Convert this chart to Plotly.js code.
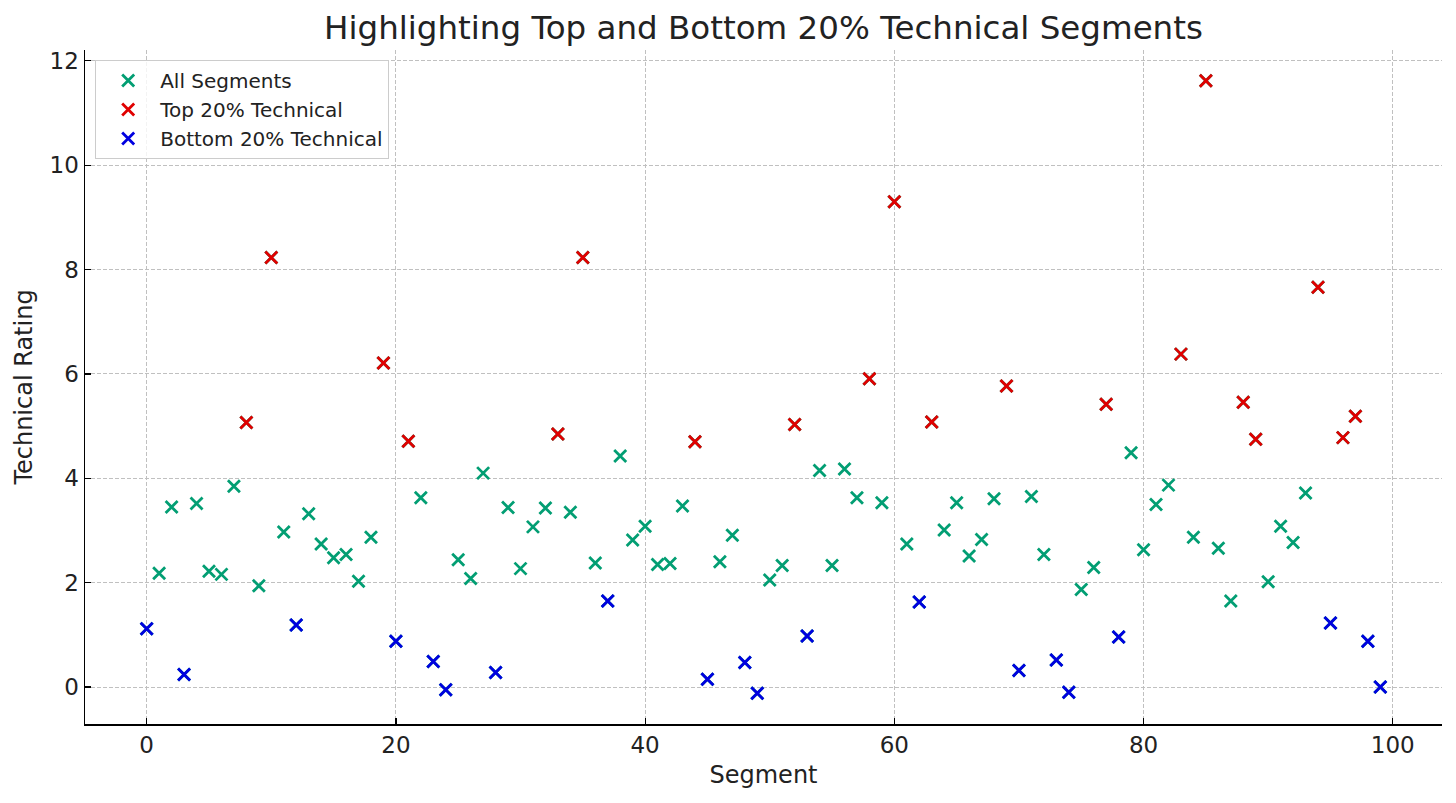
<!DOCTYPE html>
<html>
<head>
<meta charset="utf-8">
<script src="https://cdn.plot.ly/plotly-3.0.1.min.js"></script>
<style>html,body{margin:0;padding:0;background:#fff;}#chart{width:1456px;height:803px;}</style>
</head>
<body>
<div id="chart"></div>
<script>
const segments = Array.from({length: 100}, (_, i) => i);
const ratings = [
  1.12, 2.18, 3.45, 0.24, 3.52, 2.22, 2.16, 3.85, 5.07, 1.94,
  8.23, 2.97, 1.19, 3.32, 2.74, 2.48, 2.54, 2.03, 2.87, 6.21,
  0.88, 4.71, 3.63, 0.49, -0.05, 2.44, 2.08, 4.10, 0.28, 3.44,
  2.27, 3.07, 3.43, 4.85, 3.35, 8.23, 2.38, 1.65, 4.43, 2.82,
  3.08, 2.35, 2.37, 3.47, 4.70, 0.15, 2.40, 2.91, 0.47, -0.12,
  2.05, 2.33, 5.03, 0.98, 4.15, 2.33, 4.18, 3.63, 5.91, 3.53,
  9.30, 2.74, 1.63, 5.08, 3.01, 3.53, 2.51, 2.83, 3.61, 5.77,
  0.32, 3.65, 2.54, 0.52, -0.10, 1.87, 2.29, 5.42, 0.96, 4.49,
  2.63, 3.50, 3.87, 6.38, 2.87, 11.62, 2.66, 1.65, 5.46, 4.75,
  2.02, 3.08, 2.77, 3.72, 7.66, 1.23, 4.78, 5.19, 0.88, 0.00
];
const topIdx = [8, 10, 19, 21, 33, 35, 44, 52, 58, 60, 63, 69, 77, 83, 85, 88, 89, 94, 96, 97];
const bottomIdx = [0, 3, 12, 20, 23, 24, 28, 37, 45, 48, 49, 53, 62, 70, 73, 74, 78, 95, 98, 99];
const seriesNames = ["All Segments", "Top 20% Technical", "Bottom 20% Technical"];
const xTicks = [0, 20, 40, 60, 80, 100];
const yTicks = [0, 2, 4, 6, 8, 10, 12];

function mk(color) {
  return {symbol: "x-thin-open", size: 12, color: color, line: {color: color, width: 2.8}};
}

const traces = [
  {x: segments, y: ratings, mode: "markers", type: "scatter", name: seriesNames[0], legendgroup: "a", marker: mk("#029e73")},
  {x: topIdx.map(i => segments[i]), y: topIdx.map(i => ratings[i]), mode: "markers", type: "scatter", name: seriesNames[1], legendgroup: "b", marker: mk("#e00000")},
  {x: bottomIdx.map(i => segments[i]), y: bottomIdx.map(i => ratings[i]), mode: "markers", type: "scatter", name: seriesNames[2], legendgroup: "c", marker: mk("#0000e0")}
];

const font = "DejaVu Sans, sans-serif";
const axisCommon = {
  showline: true, linecolor: "#000", linewidth: 1.5, mirror: false,
  ticks: "inside", ticklen: 6, tickcolor: "#000", tickwidth: 1.2,
  showgrid: true, gridcolor: "#c0c0c0", griddash: "4px,2px", gridwidth: 1,
  zeroline: false, tickfont: {size: 23, family: font, color: "#222"}
};
const layout = {
  width: 1456, height: 803,
  margin: {l: 85, r: 14, t: 50, b: 79},
  paper_bgcolor: "#fff", plot_bgcolor: "#fff",
  font: {family: font, color: "#222", size: 20},
  title: {text: "Highlighting Top and Bottom 20% Technical Segments", font: {family: font, size: 32.5, color: "#222"}, x: 0.5, xref: "paper", xanchor: "center", y: 0.965, yanchor: "middle"},
  xaxis: Object.assign({}, axisCommon, {
    title: {text: "Segment", font: {family: font, size: 24, color: "#222"}, standoff: 9},
    range: [-4.95, 103.95], tickvals: xTicks, ticktext: xTicks.map(String)
  }),
  yaxis: Object.assign({}, axisCommon, {
    title: {text: "Technical Rating", font: {family: font, size: 24, color: "#222"}, standoff: 10},
    range: [-0.707, 12.207], tickvals: yTicks, ticktext: yTicks.map(String)
  }),
  showlegend: true,
  legend: {
    x: 0.0075, y: 0.985, xanchor: "left", yanchor: "top",
    bgcolor: "rgba(255,255,255,0.8)", bordercolor: "#cccccc", borderwidth: 1,
    font: {family: font, size: 20, color: "#222"}, itemwidth: 54, tracegroupgap: 0
  }
};

Plotly.newPlot("chart", traces, layout, {displayModeBar: false, staticPlot: true});
</script>
</body>
</html>
